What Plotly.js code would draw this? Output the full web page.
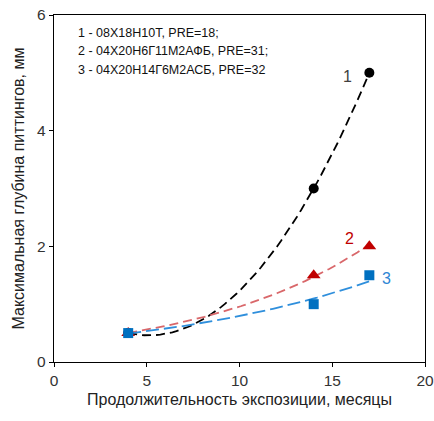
<!DOCTYPE html>
<html><head><meta charset="utf-8">
<script src="https://cdn.plot.ly/plotly-3.0.1.min.js"></script>
<style>html,body{margin:0;padding:0;background:#fff}#c{width:434px;height:421px}</style>
</head><body><div id="c"></div>
<script>
const months = [4, 14, 17];
const depth1 = [0.5, 3.0, 5.0];   // 08Х18Н10Т
const depth2 = [0.5, 1.5, 2.0];   // 04Х20Н6Г11М2АФБ
const depth3 = [0.5, 1.0, 1.5];   // 04Х20Н14Г6М2АСБ
const legendLines = ["1 - 08Х18Н10Т, PRE=18;", "2 - 04Х20Н6Г11М2АФБ, PRE=31;", "3 - 04Х20Н14Г6М2АСБ, PRE=32"];
const xTicks = [0, 5, 10, 15, 20];
const yTicks = [0, 2, 4, 6];

// Trend lines (fits computed from the data arrays)
function polyFit2(xs, ys) {
  let S = [0,0,0,0,0], T = [0,0,0];
  xs.forEach((x,i)=>{ for(let k=0;k<5;k++) S[k]+=Math.pow(x,k); for(let k=0;k<3;k++) T[k]+=ys[i]*Math.pow(x,k); });
  const A = [[S[0],S[1],S[2],T[0]],[S[1],S[2],S[3],T[1]],[S[2],S[3],S[4],T[2]]];
  for (let i=0;i<3;i++){ for(let j=i+1;j<3;j++){ const f=A[j][i]/A[i][i]; for(let k=i;k<4;k++) A[j][k]-=f*A[i][k]; } }
  const c=[0,0,0];
  for (let i=2;i>=0;i--){ let s=A[i][3]; for(let k=i+1;k<3;k++) s-=A[i][k]*c[k]; c[i]=s/A[i][i]; }
  return x=>c[0]+c[1]*x+c[2]*x*x;
}
function expFit(xs, ys) {
  const n=xs.length, ly=ys.map(Math.log);
  const mx=xs.reduce((a,b)=>a+b)/n, my=ly.reduce((a,b)=>a+b)/n;
  let sxy=0,sxx=0; xs.forEach((x,i)=>{sxy+=(x-mx)*(ly[i]-my); sxx+=(x-mx)*(x-mx);});
  const b=sxy/sxx, a=my-b*mx;
  return x=>Math.exp(a+b*x);
}
function curve(f){ const xs=[],ys=[]; for(let i=0;i<=60;i++){const x=months[0]+(months[2]-months[0])*i/60; xs.push(x); ys.push(f(x));} return {x:xs,y:ys}; }
const c1=curve(polyFit2(months,depth1)), c2=curve(expFit(months,depth2)), c3=curve(expFit(months,depth3));

const traces = [
  {x:c1.x,y:c1.y,mode:'lines',line:{color:'#000000',width:1.8,dash:'9px,5px'},hoverinfo:'skip'},
  {x:c2.x,y:c2.y,mode:'lines',line:{color:'#d9676a',width:1.8,dash:'9px,5px'},hoverinfo:'skip'},
  {x:c3.x,y:c3.y,mode:'lines',line:{color:'#2f8fdc',width:1.8,dash:'13px,5px'},hoverinfo:'skip'},
  {x:months,y:depth1,mode:'markers',marker:{symbol:'circle',size:10,color:'#000000'}},
  {x:months,y:depth2,mode:'markers',marker:{symbol:'triangle-up',size:12,color:'#c00000'}},
  {x:months,y:depth3,mode:'markers',marker:{symbol:'square',size:10,color:'#0070c0'}}
];

const font = 'Liberation Sans, Arial, sans-serif';
const ann = legendLines.map((t,i)=>({xref:'paper',yref:'paper',x:0.06,y:0.948-i*0.053,xanchor:'left',yanchor:'middle',text:t,showarrow:false,font:{family:font,size:12.5,color:'#111'}}));
ann.push({x:15.8,y:4.93,text:'1',showarrow:false,xanchor:'center',font:{family:font,size:16,color:'#404040'}});
ann.push({x:15.95,y:2.14,text:'2',showarrow:false,xanchor:'center',font:{family:font,size:16,color:'#c00000'}});
ann.push({x:17.95,y:1.45,text:'3',showarrow:false,xanchor:'center',font:{family:font,size:16,color:'#2e86d4'}});

const layout = {
  width:434,height:421,showlegend:false,
  paper_bgcolor:'#fff',plot_bgcolor:'#fff',
  margin:{l:54,r:9,t:15,b:59},
  font:{family:font,color:'#000'},
  xaxis:{range:[0,20],tickvals:xTicks,showgrid:false,zeroline:false,showline:true,linecolor:'#000',linewidth:1.3,mirror:true,
    ticks:'outside',ticklen:4,tickcolor:'#000',tickfont:{size:15.5,family:font,color:'#333'},
    title:{text:'Продолжительность экспозиции, месяцы',font:{size:16,family:font,color:'#222'},standoff:6}},
  yaxis:{range:[0,6],tickvals:yTicks,showgrid:false,zeroline:false,showline:true,linecolor:'#000',linewidth:1.3,mirror:true,
    ticks:'outside',ticklen:4,tickcolor:'#000',tickfont:{size:15.5,family:font,color:'#333'},
    title:{text:'Максимальная глубина питтингов, мм',font:{size:16,family:font,color:'#222'},standoff:8}},
  annotations:ann
};
Plotly.newPlot('c',traces,layout,{staticPlot:true});
</script></body></html>
